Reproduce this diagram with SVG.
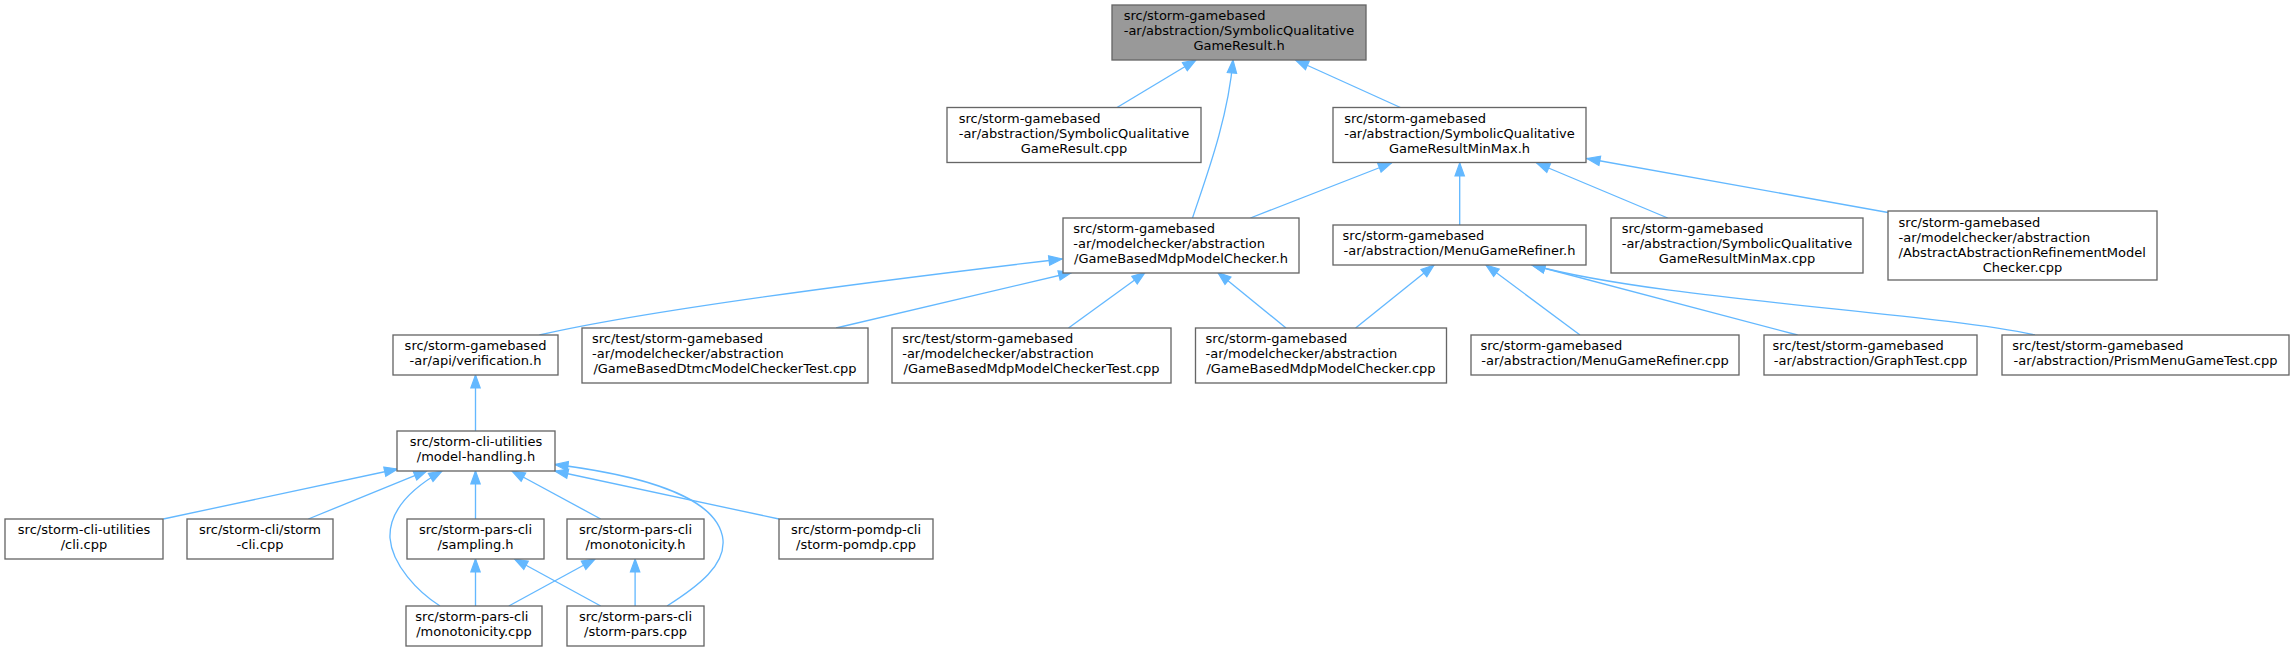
<svg xmlns="http://www.w3.org/2000/svg" width="2294" height="652" viewBox="0 0 2294 652">
<style>
.n rect{fill:#ffffff;stroke:#666666;stroke-width:1.33}
.n.root rect{fill:#999999}
.n text{font-family:"DejaVu Sans",sans-serif;font-size:13px;fill:#000000}
.m{text-anchor:middle}
#edges path{fill:none;stroke:#63b8ff;stroke-width:1.33;marker-end:url(#ah)}
</style>
<defs>
<marker id="ah" markerUnits="userSpaceOnUse" markerWidth="15" markerHeight="12" viewBox="0 0 15 12" refX="14" refY="6" orient="auto">
<path d="M1,1.3 L14,6 L1,10.7 Z" fill="#63b8ff" stroke="#63b8ff" stroke-width="1.2"/>
</marker>
</defs>
<rect width="2294" height="652" fill="#ffffff"/>
<g id="edges">
<path d="M1117,107.5 L1196,60"/>
<path d="M1192.5,218 C1205,180 1228,120 1233,60"/>
<path d="M1400.4,107.5 L1295.5,60"/>
<path d="M1250.4,218 L1391.5,163"/>
<path d="M1459.7,225 L1459.7,163"/>
<path d="M1667.7,218 L1536.6,163"/>
<path d="M1888,212.5 L1587,158.5"/>
<path d="M539.4,335 Q670,305 1062,259"/>
<path d="M836,328 L1071.7,272.5"/>
<path d="M1068.5,328 L1145,272.5"/>
<path d="M1286,328 L1217.9,272.5"/>
<path d="M1355.6,328 L1434,265"/>
<path d="M1580,335 L1486,265"/>
<path d="M1797.6,335 L1532,265"/>
<path d="M2035,335 C1930,312 1660,300 1532,265"/>
<path d="M475.5,431 L475.5,375"/>
<path d="M163.3,519 L397.5,469"/>
<path d="M308.3,519 L427,470.7"/>
<path d="M440,606 C418,592 392,565 390,538 C389,515 405,492 442,471"/>
<path d="M475.5,519 L475.5,471"/>
<path d="M600.7,519 L512,471"/>
<path d="M667,606 C700,585 725,565 723,540 C720,510 680,480 555,464.5"/>
<path d="M779,519 L555,471"/>
<path d="M475.5,606 L475.5,559"/>
<path d="M600.7,606 L514.6,559"/>
<path d="M508.8,606 L595,559"/>
<path d="M635.1,606 L635.1,559"/>
</g>
<g id="n_root" class="n root"><rect x="1112" y="5" width="254" height="55"/><text x="1123.7" y="20.3">src/storm-gamebased</text><text x="1123.7" y="35.3">-ar/abstraction/SymbolicQualitative</text><text class="m" x="1239" y="50.3">GameResult.h</text></g>
<g id="n_sqgr_cpp" class="n"><rect x="947" y="107.5" width="254" height="55"/><text x="958.7" y="122.8">src/storm-gamebased</text><text x="958.7" y="137.8">-ar/abstraction/SymbolicQualitative</text><text class="m" x="1074" y="152.8">GameResult.cpp</text></g>
<g id="n_minmax_h" class="n"><rect x="1333" y="107.5" width="253" height="55"/><text x="1344.2" y="122.8">src/storm-gamebased</text><text x="1344.2" y="137.8">-ar/abstraction/SymbolicQualitative</text><text class="m" x="1459.5" y="152.8">GameResultMinMax.h</text></g>
<g id="n_gbmmc_h" class="n"><rect x="1063" y="218" width="236" height="55"/><text x="1073.3" y="233.3">src/storm-gamebased</text><text x="1073.3" y="248.3">-ar/modelchecker/abstraction</text><text class="m" x="1181" y="263.3">/GameBasedMdpModelChecker.h</text></g>
<g id="n_mgr_h" class="n"><rect x="1333" y="225" width="253" height="40"/><text x="1342.6" y="240.3">src/storm-gamebased</text><text class="m" x="1459.5" y="255.3">-ar/abstraction/MenuGameRefiner.h</text></g>
<g id="n_minmax_cpp" class="n"><rect x="1611" y="218" width="252" height="55"/><text x="1621.7" y="233.3">src/storm-gamebased</text><text x="1621.7" y="248.3">-ar/abstraction/SymbolicQualitative</text><text class="m" x="1737" y="263.3">GameResultMinMax.cpp</text></g>
<g id="n_aarmc_cpp" class="n"><rect x="1888" y="211" width="269" height="69"/><text x="1898.6" y="227">src/storm-gamebased</text><text x="1898.6" y="242">-ar/modelchecker/abstraction</text><text x="1898.6" y="257">/AbstractAbstractionRefinementModel</text><text class="m" x="2022.5" y="272">Checker.cpp</text></g>
<g id="n_verification_h" class="n"><rect x="393" y="335" width="165" height="40"/><text class="m" x="475.5" y="350.3">src/storm-gamebased</text><text class="m" x="475.5" y="365.3">-ar/api/verification.h</text></g>
<g id="n_dtmctest_cpp" class="n"><rect x="582" y="328" width="286" height="55"/><text x="592" y="343.3">src/test/storm-gamebased</text><text x="592" y="358.3">-ar/modelchecker/abstraction</text><text class="m" x="725" y="373.3">/GameBasedDtmcModelCheckerTest.cpp</text></g>
<g id="n_mdptest_cpp" class="n"><rect x="892" y="328" width="279" height="55"/><text x="902.2" y="343.3">src/test/storm-gamebased</text><text x="902.2" y="358.3">-ar/modelchecker/abstraction</text><text class="m" x="1031.5" y="373.3">/GameBasedMdpModelCheckerTest.cpp</text></g>
<g id="n_gbmmc_cpp" class="n"><rect x="1195.5" y="328" width="251" height="55"/><text x="1205.6" y="343.3">src/storm-gamebased</text><text x="1205.6" y="358.3">-ar/modelchecker/abstraction</text><text class="m" x="1321" y="373.3">/GameBasedMdpModelChecker.cpp</text></g>
<g id="n_mgr_cpp" class="n"><rect x="1471" y="335" width="268" height="40"/><text x="1480.4" y="350.3">src/storm-gamebased</text><text class="m" x="1605" y="365.3">-ar/abstraction/MenuGameRefiner.cpp</text></g>
<g id="n_graphtest_cpp" class="n"><rect x="1764" y="335" width="213" height="40"/><text x="1772.6" y="350.3">src/test/storm-gamebased</text><text class="m" x="1870.5" y="365.3">-ar/abstraction/GraphTest.cpp</text></g>
<g id="n_prismtest_cpp" class="n"><rect x="2002" y="335" width="287" height="40"/><text x="2012.3" y="350.3">src/test/storm-gamebased</text><text class="m" x="2145.5" y="365.3">-ar/abstraction/PrismMenuGameTest.cpp</text></g>
<g id="n_modelhandling_h" class="n"><rect x="397" y="431" width="158" height="40"/><text class="m" x="476" y="446.3">src/storm-cli-utilities</text><text class="m" x="476" y="461.3">/model-handling.h</text></g>
<g id="n_cli_cpp" class="n"><rect x="5" y="519" width="158" height="40"/><text class="m" x="84" y="534.3">src/storm-cli-utilities</text><text class="m" x="84" y="549.3">/cli.cpp</text></g>
<g id="n_stormcli_cpp" class="n"><rect x="187" y="519" width="146" height="40"/><text class="m" x="260" y="534.3">src/storm-cli/storm</text><text class="m" x="260" y="549.3">-cli.cpp</text></g>
<g id="n_sampling_h" class="n"><rect x="407" y="519" width="137" height="40"/><text class="m" x="475.5" y="534.3">src/storm-pars-cli</text><text class="m" x="475.5" y="549.3">/sampling.h</text></g>
<g id="n_monotonicity_h" class="n"><rect x="567" y="519" width="137" height="40"/><text class="m" x="635.5" y="534.3">src/storm-pars-cli</text><text class="m" x="635.5" y="549.3">/monotonicity.h</text></g>
<g id="n_stormpomdp_cpp" class="n"><rect x="779" y="519" width="154" height="40"/><text class="m" x="856" y="534.3">src/storm-pomdp-cli</text><text class="m" x="856" y="549.3">/storm-pomdp.cpp</text></g>
<g id="n_monotonicity_cpp" class="n"><rect x="406" y="606" width="136" height="40"/><text x="415.3" y="621.3">src/storm-pars-cli</text><text class="m" x="474" y="636.3">/monotonicity.cpp</text></g>
<g id="n_stormpars_cpp" class="n"><rect x="567" y="606" width="137" height="40"/><text class="m" x="635.5" y="621.3">src/storm-pars-cli</text><text class="m" x="635.5" y="636.3">/storm-pars.cpp</text></g>
</svg>
